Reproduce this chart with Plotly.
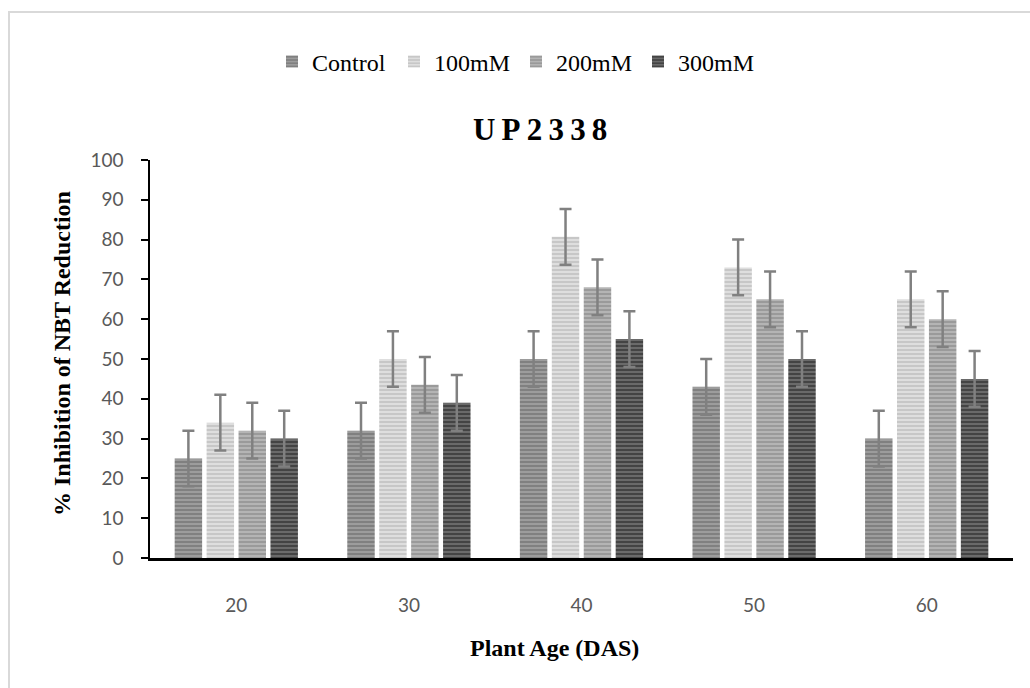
import plotly.graph_objects as go

# Plant age (days after sowing) on the x axis
ages = ["20", "30", "40", "50", "60"]

# % inhibition of NBT reduction per NaCl treatment
control = [25, 32, 50, 43, 30]
mm100 = [34, 50, 80.7, 73, 65]
mm200 = [32, 43.5, 68, 65, 60]
mm300 = [30, 39, 55, 50, 45]

# Standard error for each bar
err_control = [7, 7, 7, 7, 7]
err_100 = [7, 7, 7, 7, 7]
err_200 = [7, 7, 7, 7, 7]
err_300 = [7, 7, 7, 7, 7]

series_names = ["Control", "100mM", "200mM", "300mM"]
y_ticks = [0, 10, 20, 30, 40, 50, 60, 70, 80, 90, 100]

# Striped grey fills: (base colour, stripe colour)
styles = [
    ("#9c9c9c", "#646464"),
    ("#dedede", "#b0b0b0"),
    ("#b4b4b4", "#808080"),
    ("#6a6a6a", "#1e1e1e"),
]

W, H = 1030, 688
L, R, T, B = 150, 17, 160, 130
pw = W - L - R
ph = H - T - B


def px_x(p):
    return (p - L) / pw


def px_y(p):
    return (H - B - p) / ph


fig = go.Figure()
for name, vals, errs, (base, stripe) in zip(
    series_names,
    [control, mm100, mm200, mm300],
    [err_control, err_100, err_200, err_300],
    styles,
):
    fig.add_trace(
        go.Bar(
            name=name,
            x=ages,
            y=vals,
            marker=dict(
                color=base,
                line=dict(width=0),
                pattern=dict(
                    shape="-",
                    fillmode="overlay",
                    bgcolor=base,
                    fgcolor=stripe,
                    size=4,
                    solidity=0.5,
                ),
            ),
            error_y=dict(
                type="data",
                array=errs,
                visible=True,
                color="#808080",
                thickness=2.5,
                width=6,
            ),
        )
    )

fig.update_layout(
    width=W,
    height=H,
    margin=dict(l=L, r=R, t=T, b=B),
    paper_bgcolor="white",
    plot_bgcolor="white",
    barmode="group",
    bargap=0.26,
    bargroupgap=0.14,
    showlegend=True,
    legend=dict(
        orientation="h",
        x=px_x(272),
        xanchor="left",
        y=px_y(62),
        yanchor="middle",
        font=dict(family="Liberation Serif", size=24, color="black"),
        itemwidth=30,
        entrywidth=77,
        entrywidthmode="pixels",
        bgcolor="rgba(0,0,0,0)",
    ),
    xaxis=dict(
        showline=True,
        linecolor="black",
        linewidth=3,
        ticks="",
        showgrid=False,
        tickfont=dict(family="Lato", size=19, color="#595959"),
        ticklabelstandoff=28,
    ),
    yaxis=dict(
        range=[0, 100],
        tickvals=y_ticks,
        showline=True,
        linecolor="black",
        linewidth=1.5,
        ticks="outside",
        ticklen=7,
        tickwidth=1.5,
        tickcolor="black",
        showgrid=False,
        zeroline=False,
        tickfont=dict(family="Lato", size=19, color="#595959"),
        ticklabelstandoff=14,
    ),
)

# Outer chart border
fig.add_shape(
    type="rect",
    xref="paper",
    yref="paper",
    x0=px_x(9),
    x1=px_x(1100),
    y0=px_y(760),
    y1=px_y(12),
    line=dict(color="#d9d9d9", width=2),
    fillcolor="rgba(0,0,0,0)",
    layer="below",
)

fig.add_annotation(
    text="U\u2009P\u20092\u20093\u20093\u20098",
    xref="paper",
    yref="paper",
    x=px_x(540),
    y=px_y(129),
    xanchor="center",
    yanchor="middle",
    showarrow=False,
    font=dict(family="Liberation Serif", size=31, color="black", weight="bold"),
)
fig.add_annotation(
    text="% Inhibition of NBT Reduction",
    xref="paper",
    yref="paper",
    x=px_x(62),
    y=px_y(354),
    xanchor="center",
    yanchor="middle",
    textangle=-90,
    showarrow=False,
    font=dict(family="Liberation Serif", size=24, color="black", weight="bold"),
)
fig.add_annotation(
    text="Plant Age (DAS)",
    xref="paper",
    yref="paper",
    x=px_x(554),
    y=px_y(648),
    xanchor="center",
    yanchor="middle",
    showarrow=False,
    font=dict(family="Liberation Serif", size=24, color="black", weight="bold"),
)

fig.write_html("out.html")
